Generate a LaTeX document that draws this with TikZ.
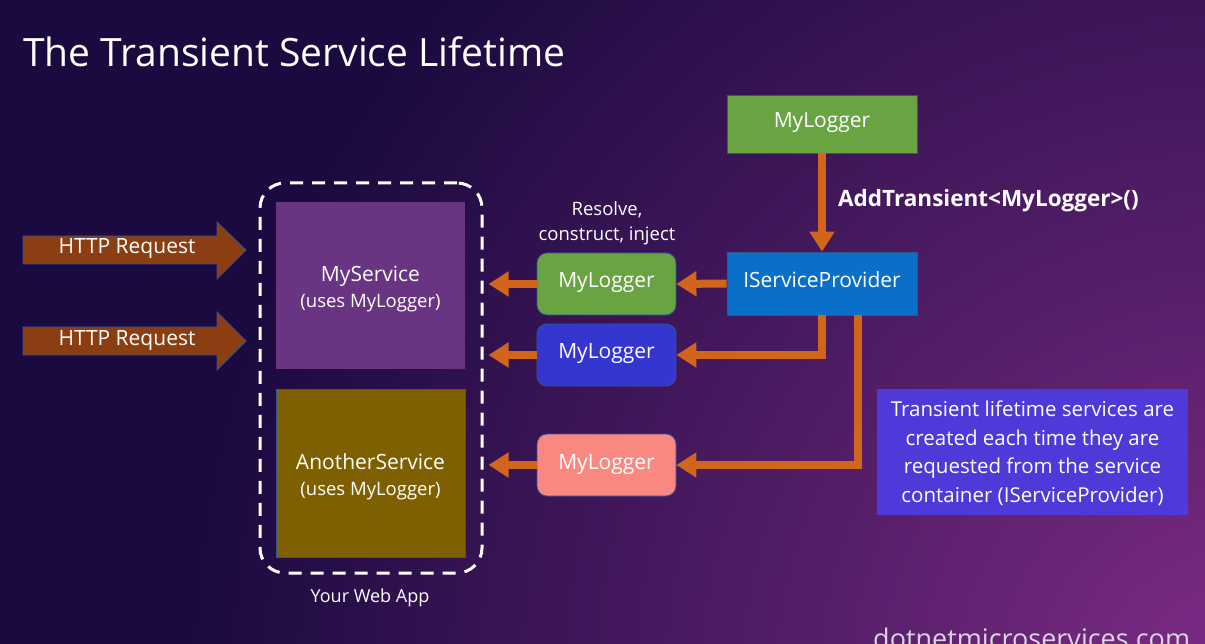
\documentclass[tikz,border=0pt]{standalone}
\usepackage{fontspec}
\setmainfont{Open Sans}
\usetikzlibrary{arrows.meta,calc}
\definecolor{bgdark}{HTML}{1B0A3F}
\definecolor{bgpurple}{HTML}{7E2C86}
\definecolor{svcpurple}{HTML}{693482}
\definecolor{svcbrown}{HTML}{7F6000}
\definecolor{lgreen}{HTML}{6AA342}
\definecolor{ispblue}{HTML}{0A6FC6}
\definecolor{lblue}{HTML}{3535D0}
\definecolor{lpink}{HTML}{F88880}
\definecolor{notec}{HTML}{4E3AD8}
\definecolor{orangec}{HTML}{D2651C}
\definecolor{httpc}{HTML}{8A3E12}
\definecolor{edgeblue}{HTML}{2F5597}
\definecolor{urlc}{HTML}{DCD4E4}
\begin{document}
\begin{tikzpicture}[x=1pt,y=-1pt,
  txt/.style={text=white, font=\fontsize{21}{25}\selectfont, text height=0.8em, text depth=0pt},
  box/.style={txt, draw=edgeblue, line width=0.8pt, inner sep=0pt},
  logger/.style={box, rounded corners=10pt, minimum width=139pt, minimum height=62pt},
  svc/.style={inner sep=0pt, minimum width=189pt, minimum height=167pt},
  svctxt/.style={text=white, font=\fontsize{21}{25}\selectfont, align=center, inner sep=0pt},
  oarr/.style={draw=orangec, line width=8pt, line join=miter, -{Triangle[width=24pt,length=20pt]}},
  httparrow/.style={fill=httpc, draw=edgeblue, line width=0.8pt}
]
\useasboundingbox (0,0) rectangle (1205,644);
\begin{scope}
  \clip (0,0) rectangle (1205,644);
  \fill[bgdark] (0,0) rectangle (1205,644);
  \shade[inner color=bgpurple, outer color=bgdark] (1240,690) circle (1050);
\end{scope}

% title
\node[anchor=base west, text=white, font=\fontsize{39}{46}\selectfont, inner sep=0pt] (title) at (23,67) {The Transient Service Lifetime};

% HTTP request arrows
\fill[httparrow] (23,236) -- (217,236) -- (217,222) -- (246,250) -- (217,279) -- (217,264) -- (23,264) -- cycle;
\node[txt] (h1) at (127,250) {HTTP Request};
\fill[httparrow] (23,327) -- (217,327) -- (217,312) -- (246,341) -- (217,370) -- (217,355) -- (23,355) -- cycle;
\node[txt] (h2) at (127,341) {HTTP Request};

% web app container
\node[draw=white, dash pattern=on 13pt off 9pt, line width=3pt, rounded corners=25pt,
      minimum width=222pt, minimum height=390pt, inner sep=0pt] (app) at (371,378) {};
\node[svc, fill=svcpurple] (mysvc) at (370.5,285.5) {};
\node[svctxt] (mysvcl) at ($(mysvc.center)+(0,3.5)$) {MyService\\[1pt]{\fontsize{18.5}{21}\selectfont (uses MyLogger)}};
\node[svc, fill=svcbrown, draw=edgeblue, line width=0.8pt, minimum height=168pt] (another) at (370.5,473) {};
\node[svctxt] (anotherl) at ($(another.center)+(0,3.5)$) {AnotherService\\[1pt]{\fontsize{18.5}{21}\selectfont (uses MyLogger)}};
\node[text=white, font=\fontsize{18}{21}\selectfont] (webapp) at (370,598) {Your Web App};

% right side
\node[box, fill=lgreen, minimum width=190pt, minimum height=58pt] (top) at (822,124) {MyLogger};
\node[box, fill=ispblue, minimum width=190pt, minimum height=63pt] (isp) at (822,283.5) {IServiceProvider};
\node[logger, fill=lgreen] (gl) at (606.5,284) {MyLogger};
\node[logger, fill=lblue] (bl) at (606.5,355) {MyLogger};
\node[logger, fill=lpink] (pl) at (606.5,465) {MyLogger};
\node[text=white, font=\fontsize{18.5}{25}\selectfont, align=center] (resolve) at (607,223) {Resolve,\\construct, inject};
\node[anchor=west, text=white, font=\fontsize{22.5}{26}\selectfont\bfseries, inner sep=0pt] (add) at (838,201) {AddTransient<MyLogger>()};

\node[fill=notec, minimum width=311pt, minimum height=126pt, inner sep=0pt] (note) at (1032.5,452) {};
\node[text=white, font=\fontsize{20.5}{28.5}\selectfont, align=center, inner sep=0pt] (notel) at ($(note.center)+(0,1.5)$)
  {Transient lifetime services are\\created each time they are\\requested from the service\\container (IServiceProvider)};

\node[anchor=base west, text=urlc, font=\fontsize{27}{32}\selectfont, inner sep=0pt] (url) at (873,648) {dotnetmicroservices.com};

% connectors
\draw[oarr] (top.south) -- (isp.north);
\draw[oarr] (isp.west) -- (gl.east);
\draw[oarr] (gl.west) -- ($(gl.west -| app.east)+(5,0)$);
\draw[oarr] (isp.south) |- (bl.east);
\draw[oarr] (bl.west) -- ($(bl.west -| app.east)+(5,0)$);
\draw[oarr] ($(isp.south)+(36,0)$) |- (pl.east);
\draw[oarr] (pl.west) -- ($(pl.west -| app.east)+(5,0)$);
\end{tikzpicture}
\end{document}
